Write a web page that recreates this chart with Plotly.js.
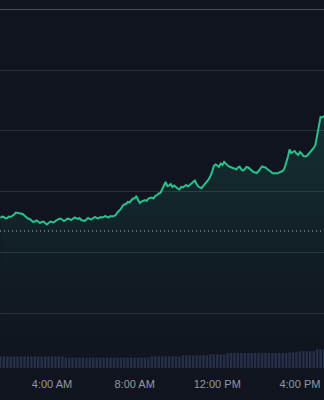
<!DOCTYPE html>
<html>
<head>
<meta charset="utf-8">
<script src="https://cdn.plot.ly/plotly-3.0.1.min.js"></script>
<style>
  html, body { margin: 0; padding: 0; background: #10141f; }
  #chart { width: 324px; height: 400px; }
</style>
</head>
<body>
<div id="chart"></div>
<script>
// ---- data ----
var sessionDate = '2024-03-15';
var startTime = '01:30';
var priceStepMinutes = 5;
var volumeStepMinutes = 10;

var price = [
  150, 151.5, 151, 149.5, 150, 151.5, 151, 152, 153.5, 155.5,
  155, 154.5, 154, 154, 152.5, 150.5, 149.5, 149, 147.5, 146,
  146.5, 147.5, 146.5, 145, 146, 146.5, 145, 143.5, 145, 146.5,
  146, 145.5, 147, 148.5, 149, 149.5, 148, 147, 148, 149.5,
  149, 148, 149, 150.5, 150, 149, 150, 148, 147.5, 147,
  148.5, 150, 149, 148.5, 150, 151, 150, 149.5, 151, 150.5,
  151, 152, 151, 150.5, 152, 151.5, 152, 153, 155.5, 157,
  159, 162, 163.5, 164, 166, 165.5, 167.5, 169.5, 169.5, 172,
  168, 165, 166.5, 167, 168, 167, 169.5, 170, 170.5, 169.5,
  172, 173, 174.5, 175, 179, 183, 186, 182, 182.5, 184,
  181, 182.5, 180.5, 179.5, 178.5, 181, 180.5, 181.5, 183, 181.5,
  183.5, 184.5, 186, 187.5, 184, 181.5, 180.5, 180, 182.5, 184.5,
  187, 188.5, 192, 196, 202, 203.5, 202.5, 201, 204.5, 203,
  206, 204, 202.5, 201.5, 200.5, 200, 199.5, 198.5, 200.5, 201.5,
  198.5, 197.5, 199, 201, 200.5, 199, 197.5, 196, 195.5, 195,
  197, 199, 201.5, 201, 200.5, 199, 198, 196.5, 195, 194.5,
  195, 194.5, 195.5, 196, 197, 199.5, 205, 211, 218.5, 215,
  216, 217, 214.5, 213, 216, 214.5, 212, 211.5, 212, 214,
  216.5, 217.5, 220, 223, 232, 240, 251, 250.5, 252
];

var volume = [
  1170, 1160, 1170, 1170, 1160, 1170, 1170, 1170, 1160, 1170,
  1170, 1170, 1160, 1170, 1170, 1170, 1170, 1160, 1170, 1040,
  1040, 1040, 1040, 1030, 1040, 1040, 1040, 1040, 1040, 1030,
  1040, 1040, 1040, 1040, 1040, 1040, 1030, 1040, 1040, 1040,
  1040, 1040, 1040, 1040, 1170, 1170, 1160, 1170, 1170, 1170,
  1170, 1160, 1170, 1270, 1270, 1270, 1260, 1270, 1270, 1270,
  1270, 1370, 1370, 1370, 1360, 1370, 1500, 1500, 1500, 1490,
  1500, 1500, 1500, 1500, 1490, 1500, 1500, 1500, 1500, 1500,
  1490, 1500, 1500, 1500, 1570, 1570, 1570, 1670, 1670, 1670,
  1670, 1670, 1870, 1870, 1870
];

var previousClose = 137;
var tickTimes = ['04:00', '08:00', '12:00', '16:00'];
var tickLabels = ['4:00 AM', '8:00 AM', '12:00 PM', '4:00 PM'];
var xStart = '01:29';
var xEnd = '17:10';

// ---- build time axes ----
function pad(n) { return (n < 10 ? '0' : '') + n; }
var sp = startTime.split(':');
var startMin = (+sp[0]) * 60 + (+sp[1]);
function timeAxis(arr, step) {
  return arr.map(function (_, i) {
    var m = startMin + i * step;
    return sessionDate + ' ' + pad(Math.floor(m / 60)) + ':' + pad(m % 60);
  });
}
var priceTimes = timeAxis(price, priceStepMinutes);
var volumeTimes = timeAxis(volume, volumeStepMinutes);

var green = '#29c08c';

var volTrace = {
  type: 'bar',
  x: volumeTimes,
  y: volume,
  yaxis: 'y2',
  marker: { color: '#27304b', line: { width: 0 } },
  hoverinfo: 'skip'
};

var priceTrace = {
  type: 'scatter',
  mode: 'lines',
  x: priceTimes,
  y: price,
  line: { color: green, width: 2 },
  fill: 'tozeroy',
  fillgradient: {
    type: 'vertical',
    start: 0,
    stop: 252,
    colorscale: [
      [0, 'rgba(41,192,140,0)'],
      [0.3, 'rgba(41,192,140,0.03)'],
      [0.55, 'rgba(41,192,140,0.08)'],
      [1, 'rgba(41,192,140,0.16)']
    ]
  },
  hoverinfo: 'skip'
};

var layout = {
  width: 324,
  height: 400,
  margin: { l: 0, r: 0, t: 0, b: 32 },
  paper_bgcolor: '#10141f',
  plot_bgcolor: '#10141f',
  showlegend: false,
  bargap: 0.3,
  xaxis: {
    type: 'date',
    range: [sessionDate + ' ' + xStart, sessionDate + ' ' + xEnd],
    showgrid: false,
    zeroline: false,
    showline: false,
    tickmode: 'array',
    tickvals: tickTimes.map(function (t) { return sessionDate + ' ' + t; }),
    ticktext: tickLabels,
    ticks: 'outside',
    ticklen: 6,
    tickcolor: 'rgba(0,0,0,0)',
    tickfont: { family: 'Liberation Sans, Arial, sans-serif', size: 11, color: '#9598a1' },
    fixedrange: true
  },
  yaxis: {
    range: [0, 368],
    showgrid: true,
    gridcolor: '#2a2e3a',
    gridwidth: 1,
    tick0: 55,
    dtick: 60.7,
    showticklabels: false,
    zeroline: false,
    showline: false,
    fixedrange: true
  },
  yaxis2: {
    overlaying: 'y',
    range: [0, 36800],
    showgrid: false,
    showticklabels: false,
    zeroline: false,
    showline: false,
    fixedrange: true
  },
  shapes: [
    {
      type: 'line', xref: 'paper', x0: 0, x1: 1, yref: 'y',
      y0: 358.5, y1: 358.5,
      line: { color: '#4a4e5a', width: 1 }
    },
    {
      type: 'line', xref: 'paper', x0: 0, x1: 1, yref: 'y',
      y0: previousClose, y1: previousClose,
      line: { color: 'rgba(205,208,216,0.85)', width: 1, dash: '1px,3px' }
    }
  ],
  hovermode: false
};

Plotly.newPlot('chart', [priceTrace, volTrace], layout, { displayModeBar: false, staticPlot: true });
</script>
</body>
</html>
